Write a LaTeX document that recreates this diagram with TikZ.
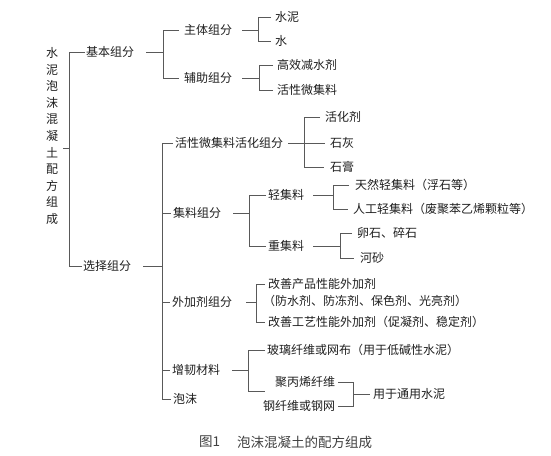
\documentclass[tikz,border=0pt]{standalone}
\usepackage{fontspec}
\setmainfont{Noto Sans CJK SC}
\begin{document}
\begin{tikzpicture}[x=1pt,y=-1pt,
  lbl/.style={anchor=west,inner sep=0pt,font=\fontsize{12}{14}\selectfont,text=black!88},
  ln/.style={draw=black!65,line width=0.7pt}]
\useasboundingbox (0,0) rectangle (551,455);
% junction columns
\coordinate (v0) at (69,0);
\coordinate (v1) at (163,0);
\coordinate (v2) at (258,0);
\coordinate (v3) at (259,0);
\coordinate (v4) at (162,0);
\coordinate (v5) at (304,0);
\coordinate (v6) at (249,0);
\coordinate (v7) at (333,0);
\coordinate (v8) at (340,0);
\coordinate (v9) at (256,0);
\coordinate (v10) at (248,0);
\coordinate (v11) at (353,0);
\coordinate (rt) at (69,148);
\coordinate (zrb) at (265,391);
% nodes
\node[lbl,anchor=center,align=center,font=\fontsize{12}{16.6}\selectfont] (root) at (52,136) {水\\泥\\泡\\沫\\混\\凝\\土\\配\\方\\组\\成};
\node[lbl] (jb) at (86,52) {基本组分};
\node[lbl] (xz) at (83,266) {选择组分};
\node[lbl] (zt) at (184,30) {主体组分};
\node[lbl] (fz) at (184,78) {辅助组分};
\node[lbl] (sn) at (275,17) {水泥};
\node[lbl] (sh) at (275,41) {水};
\node[lbl] (gx) at (277,65) {高效减水剂};
\node[lbl] (hx) at (277,90) {活性微集料};
\node[lbl] (hh) at (175,143) {活性微集料活化组分};
\node[lbl] (hhj) at (325,117) {活化剂};
\node[lbl] (sg) at (330,143) {石灰};
\node[lbl] (sgao) at (330,167) {石膏};
\node[lbl] (jl) at (173,213) {集料组分};
\node[lbl] (qj) at (268,195) {轻集料};
\node[lbl] (zj) at (268,246) {重集料};
\node[lbl] (tr) at (355,185) {天然轻集料（浮石等）};
\node[lbl] (rg) at (353,209) {人工轻集料（废聚苯乙烯颗粒等）};
\node[lbl] (ls) at (357,233) {卵石、碎石};
\node[lbl] (hs) at (360,258) {河砂};
\node[lbl] (wj) at (172,302) {外加剂组分};
\node[lbl] (gs1) at (268,284) {改善产品性能外加剂};
\node[lbl] (gs1b) at (263,301) {（防水剂、防冻剂、保色剂、光亮剂）};
\node[lbl] (gs2) at (268,322) {改善工艺性能外加剂（促凝剂、稳定剂）};
\node[lbl] (zr) at (172,370) {增韧材料};
\node[lbl] (bl) at (267,350) {玻璃纤维或网布（用于低碱性水泥）};
\node[lbl] (jb2) at (275,382) {聚丙烯纤维};
\node[lbl] (gx2) at (263,406) {钢纤维或钢网};
\node[lbl] (ty) at (373,394) {用于通用水泥};
\node[lbl] (pm) at (173,399) {泡沫};
\node[lbl,text=black!75,font=\fontsize{13.5}{15}\selectfont] (cap1) at (199,442) {图1};
\node[lbl,text=black!75,font=\fontsize{13.5}{15}\selectfont] (cap2) at (237,442) {泡沫混凝土的配方组成};
% connectors
\draw[ln] (rt -| root.east) ++(5,0) -- (rt);
\draw[ln] ([xshift=-1.5pt]jb.west) -- (jb -| v0) -- (xz -| v0) -- ([xshift=-1.5pt]xz.west);
% basic
\draw[ln] ([xshift=12pt]jb.east) -- (jb -| v1);
\draw[ln] ([xshift=-5pt]zt.west) -- (zt -| v1) -- (fz -| v1) -- ([xshift=-5pt]fz.west);
\draw[ln] ([xshift=10pt]zt.east) -- (zt -| v2);
\draw[ln] ([xshift=-4pt]sn.west) -- (sn -| v2) -- (sh -| v2) -- ([xshift=-4pt]sh.west);
\draw[ln] ([xshift=10pt]fz.east) -- (fz -| v3);
\draw[ln] ([xshift=-4pt]gx.west) -- (gx -| v3) -- (hx -| v3) -- ([xshift=-4pt]hx.west);
% optional
\draw[ln] ([xshift=12pt]xz.east) -- (xz -| v4);
\draw[ln] ([xshift=-2pt]hh.west) -- (hh -| v4) -- (pm -| v4) -- ([xshift=-2pt]pm.west);
\draw[ln] (jl -| v4) -- ([xshift=-2pt]jl.west);
\draw[ln] (wj -| v4) -- ([xshift=-2pt]wj.west);
\draw[ln] (zr -| v4) -- ([xshift=-2pt]zr.west);
% activation
\draw[ln] ([xshift=5pt]hh.east) -- ([xshift=-5pt]sg.west);
\draw[ln] ([xshift=-5pt]hhj.west) -- (hhj -| v5) -- (sgao -| v5) -- ([xshift=-6pt]sgao.west);
% aggregate
\draw[ln] ([xshift=12pt]jl.east) -- (jl -| v6);
\draw[ln] ([xshift=-2pt]qj.west) -- (qj -| v6) -- (zj -| v6) -- ([xshift=-2pt]zj.west);
\draw[ln] ([xshift=9pt]qj.east) -- (qj -| v7);
\draw[ln] ([xshift=-6pt]tr.west) -- (tr -| v7) -- (rg -| v7) -- ([xshift=-5pt]rg.west);
\draw[ln] ([xshift=9pt]zj.east) -- (zj -| v8);
\draw[ln] ([xshift=-5pt]ls.west) -- (ls -| v8) -- (hs -| v8) -- ([xshift=-6pt]hs.west);
% admixture
\draw[ln] ([xshift=14pt]wj.east) -- (wj -| v9);
\draw[ln] ([xshift=-3pt]gs1.west) -- (gs1 -| v9) -- (gs2 -| v9) -- ([xshift=-3pt]gs2.west);
% toughening
\draw[ln] ([xshift=12pt]zr.east) -- (zr -| v10);
\draw[ln] ([xshift=-2pt]bl.west) -- (bl -| v10) -- (zrb -| v10) -- (zrb);
\draw[ln] ([xshift=3pt]jb2.east) -- (jb2 -| v11) -- (gx2 -| v11) -- ([xshift=3pt]gx2.east);
\draw[ln] (ty -| v11) -- ([xshift=-3pt]ty.west);
\end{tikzpicture}
\end{document}
